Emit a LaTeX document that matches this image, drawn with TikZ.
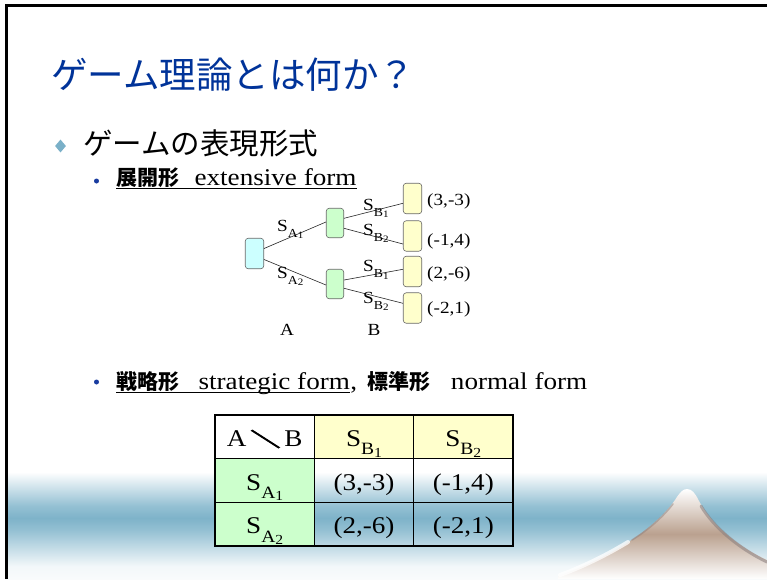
\documentclass[tikz,border=0pt]{standalone}
\usepackage{fontspec}
\setmainfont{Liberation Serif}[FakeStretch=1.13]
\newfontfamily\cjk{Noto Sans CJK JP}
\newfontfamily\cjkheavy{Noto Sans CJK JP}[FakeBold=4]
\usetikzlibrary{shapes.geometric}

\definecolor{titleblue}{RGB}{0,51,153}
\definecolor{bulletblue}{RGB}{25,60,160}
\definecolor{diamondblue}{RGB}{122,176,200}
\definecolor{bandblue}{RGB}{126,179,201}
\definecolor{bandmid}{RGB}{148,192,211}
\definecolor{rootfill}{RGB}{204,255,255}
\definecolor{midfill}{RGB}{204,255,204}
\definecolor{leaffill}{RGB}{255,255,204}
\definecolor{boxline}{RGB}{105,105,105}
\definecolor{mtan}{RGB}{186,161,143}
\definecolor{ridge}{RGB}{135,124,124}

% strategy symbol S with a two-level subscript
\newcommand\strat[2]{S\raisebox{-0.36em}{\scalebox{0.72}{#1\raisebox{-0.12em}{\scalebox{0.8}{#2}}}}}

\tikzset{
  gnode/.style={draw=boxline, line width=0.6pt, rounded corners=3pt, inner sep=0,
                minimum width=18.5pt, minimum height=30.5pt},
  edge/.style={draw=black!85, line width=0.6pt},
  lbl/.style={inner sep=0, font=\fontsize{17}{20}\selectfont},
  cell/.style={draw=black, line width=0.8pt, minimum width=99.33pt, minimum height=43.67pt,
               inner sep=0, text height=21pt, text depth=2pt, font=\fontsize{24}{28}\selectfont},
  cjktext/.style={inner sep=0, font=\cjk\bfseries\fontsize{21}{24}\selectfont},
  latintext/.style={inner sep=0, font=\fontsize{24}{28}\selectfont},
}

\begin{document}
\begin{tikzpicture}[x=1pt,y=-1pt]
\useasboundingbox (0,0) rectangle (767,579);
\fill[white] (0,0) rectangle (767,579);

% horizontal sky band
\shade[top color=white, bottom color=bandmid] (6,472) rectangle (767,506);
\shade[top color=bandmid, bottom color=bandmid, middle color=bandblue] (6,506) rectangle (767,530);
\shade[top color=bandmid, bottom color=white!90!bandblue] (6,530) rectangle (767,566);
\shade[top color=white!90!bandblue, bottom color=white!95!bandblue] (6,566) rectangle (767,579);

% mountain
\shade[top color=white, bottom color=white, middle color=mtan]
  (558,579) -- (558,576) .. controls (600,561) and (650,535) .. (675,500)
  .. controls (680,492) and (683,489) .. (687,489)
  .. controls (692,489) and (695,493) .. (699,501)
  .. controls (712,526) and (740,548) .. (767,560) -- (767,579) -- cycle;
\draw[ridge, line width=3pt, opacity=0.55, line cap=round]
  (701,506) .. controls (714,528) and (740,549) .. (767,562);
\draw[ridge, line width=1.6pt, opacity=0.45, line cap=round]
  (673,504) .. controls (662,518) and (648,530) .. (632,540);
\draw[white, line width=4pt, opacity=0.75, line cap=round]
  (560,575) .. controls (585,566) and (610,553) .. (628,542);

% title
\node[anchor=west, inner sep=0, text=titleblue, font=\cjk\fontsize{36.5}{40}\selectfont]
  (title) at (51,75) {ゲーム理論とは何か？};

% first-level bullet
\node[diamond, fill=diamondblue, minimum width=11pt, minimum height=13pt, inner sep=0]
  (d1) at (60.5,146) {};
\node[anchor=west, inner sep=0, font=\cjk\fontsize{29.5}{32}\selectfont]
  (lv1) at (83,143) {ゲームの表現形式};

% second-level bullet: extensive form
\node[circle, fill=bulletblue, minimum size=5pt, inner sep=0] (b1) at (96.5,181) {};
\node[cjktext, anchor=base west] (ext1) at (116,185) {展開形};
\node[latintext, anchor=base west] (ext2) at ([xshift=15pt]ext1.base east) {extensive form};
\draw[line width=1.3pt] ([yshift=-3.5pt]ext1.base west) -- ([yshift=-3.5pt]ext2.base east);

% game tree
\node[gnode, fill=rootfill] (root) at (254.5,253.5) {};
\node[gnode, fill=midfill, minimum width=17.5pt, minimum height=29.5pt] (m1) at (335,223) {};
\node[gnode, fill=midfill, minimum width=17.5pt, minimum height=29.5pt] (m2) at (335,284) {};
\node[gnode, fill=leaffill] (lf1) at (412.5,198.5) {};
\node[gnode, fill=leaffill] (lf2) at (412.5,236) {};
\node[gnode, fill=leaffill] (lf3) at (412.5,271.5) {};
\node[gnode, fill=leaffill] (lf4) at (412.5,308) {};

\draw[edge] ([yshift=5pt]root.east) -- ([yshift=1pt]m1.west);
\draw[edge] ([yshift=-6pt]root.east) -- ([yshift=-1pt]m2.west);
\draw[edge] ([yshift=4.7pt]m1.east) -- ([yshift=-4.8pt]lf1.west);
\draw[edge] ([yshift=-5.3pt]m1.east) -- ([yshift=-8pt]lf2.west);
\draw[edge] ([yshift=4pt]m2.east) -- ([yshift=2.2pt]lf3.west);
\draw[edge] ([yshift=-4.3pt]m2.east) -- ([yshift=4.7pt]lf4.west);

\node[lbl, anchor=base west] (sa1) at (277,231) {\strat{A}{1}};
\node[lbl, anchor=base west] (sa2) at (277,278) {\strat{A}{2}};
\node[lbl, anchor=base west] (sb1u) at (363,210) {\strat{B}{1}};
\node[lbl, anchor=base west] (sb2u) at (363,235) {\strat{B}{2}};
\node[lbl, anchor=base west] (sb1l) at (363,271.5) {\strat{B}{1}};
\node[lbl, anchor=base west] (sb2l) at (363,303) {\strat{B}{2}};

\node[lbl, anchor=west] (p1) at (427,201) {(3,-3)};
\node[lbl, anchor=west] (p2) at (427,241) {(-1,4)};
\node[lbl, anchor=west] (p3) at (427,274) {(2,-6)};
\node[lbl, anchor=west] (p4) at (427,309) {(-2,1)};

\node[lbl] (pa) at (287,330) {A};
\node[lbl] (pb) at (374,330) {B};

% second-level bullet: strategic / normal form
\node[circle, fill=bulletblue, minimum size=5pt, inner sep=0] (b2) at (96.5,382) {};
\node[cjktext, anchor=base west] (str1) at (116,389) {戦略形};
\node[latintext, anchor=base west] (str2) at ([xshift=19pt]str1.base east) {strategic form};
\node[latintext, anchor=base west] (cm) at (str2.base east) {,};
\node[cjktext, anchor=base west] (nor1) at ([xshift=10pt]cm.base east) {標準形};
\node[latintext, anchor=base west] (nor2) at ([xshift=20pt]nor1.base east) {normal form};
\draw[line width=1.3pt] ([yshift=-3.5pt]str1.base west) -- ([yshift=-3.5pt]str2.base east);

% payoff table
\node[cell, fill=white] (c11) at (264.67,436.83) {A\,{\cjkheavy\scalebox{1.25}[0.8]{＼}}\,B};
\node[cell, fill=leaffill] (c12) at (364,436.83) {\strat{B}{1}};
\node[cell, fill=leaffill] (c13) at (463.33,436.83) {\strat{B}{2}};
\node[cell, fill=midfill] (c21) at (264.67,480.5) {\strat{A}{1}};
\node[cell] (c22) at (364,480.5) {(3,-3)};
\node[cell] (c23) at (463.33,480.5) {(-1,4)};
\node[cell, fill=midfill] (c31) at (264.67,524.17) {\strat{A}{2}};
\node[cell] (c32) at (364,524.17) {(2,-6)};
\node[cell] (c33) at (463.33,524.17) {(-2,1)};
\draw[line width=2pt] (c11.north west) rectangle (c33.south east);

% slide frame
\draw[line width=2.8pt] (6.5,579) -- (6.5,5.3) -- (767,5.3);
\end{tikzpicture}
\end{document}
